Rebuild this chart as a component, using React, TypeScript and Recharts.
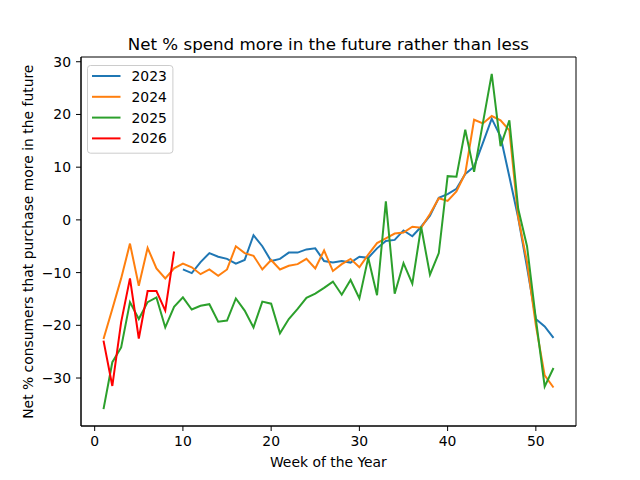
import { LineChart, Line, XAxis, YAxis, Legend, ReferenceArea } from "recharts"

const weeks = [
  1, 2, 3, 4, 5, 6, 7, 8, 9, 10, 11, 12, 13, 14, 15, 16, 17, 18, 19, 20, 21, 22, 23, 24, 25, 26,
  27, 28, 29, 30, 31, 32, 33, 34, 35, 36, 37, 38, 39, 40, 41, 42, 43, 44, 45, 46, 47, 48, 49, 50, 51, 52,
]

const net2023 = [
  null, null, null, null, null, null, null, null, null, -9.4, -10.1, -8.0, -6.3, -7.0, -7.4, -8.3, -7.6, -2.9,
  -5.0, -7.8, -7.4, -6.2, -6.2, -5.6, -5.4, -7.8, -8.1, -7.8, -8.1, -7.0, -7.2, -5.4, -4.0, -3.8, -2.0, -3.1,
  -1.3, 0.8, 4.2, 4.9, 5.9, 8.7, 10.1, 14.6, 19.2, 15.8, 8.2, 0.4, -9.0, -18.8, -20.2, -22.4,
]

const net2024 = [
  -22.6, -16.9, -11.1, -4.5, -12.5, -5.3, -9.2, -11.1, -9.2, -8.3, -9.0, -10.3, -9.4, -10.6, -9.4, -5.0, -6.3,
  -6.8, -9.4, -7.6, -9.4, -8.7, -8.4, -7.4, -9.2, -5.8, -9.7, -8.4, -7.4, -9.0, -6.6, -4.4, -3.5, -2.6, -2.4,
  -1.3, -1.5, 1.1, 4.1, 3.6, 5.4, 8.8, 19.0, 18.3, 19.7, 18.9, 17.0, 0.5, -8.0, -20.0, -29.5, -31.8,
]

const net2025 = [
  -35.9, -27.0, -24.2, -15.6, -18.8, -15.6, -14.7, -20.4, -16.5, -14.7, -17.0, -16.3, -16.0, -19.3, -19.1,
  -14.9, -17.2, -20.4, -15.5, -15.9, -21.5, -18.8, -16.9, -14.8, -14.0, -12.9, -11.7, -14.2, -11.4, -14.9,
  -7.2, -14.3, 3.5, -14.0, -8.2, -12.1, -1.3, -10.4, -6.3, 8.3, 8.2, 17.1, 9.1, 18.4, 27.7, 14.0, 18.9, 2.1,
  -5.0, -18.8, -31.6, -28.1,
]

const net2026 = [-22.9, -31.5, -19.4, -11.1, -22.5, -13.5, -13.5, -17.2, -6.0]

const xTicks = [0, 10, 20, 30, 40, 50]
const yTicks = [-30, -20, -10, 0, 10, 20, 30]
const xDomain = [-1.55, 54.55]
const yDomain = [-39.1, 30.9]

const series = [
  { key: "2023", values: net2023, color: "#1f77b4" },
  { key: "2024", values: net2024, color: "#ff7f0e" },
  { key: "2025", values: net2025, color: "#2ca02c" },
  { key: "2026", values: net2026, color: "#ff0000" },
]

const data = weeks.map((week, i) => {
  const row: Record<string, number | null> = { week }
  series.forEach((s) => {
    row[s.key] = s.values[i] ?? null
  })
  return row
})

const font = "'DejaVu Sans', sans-serif"
const tickStyle = { fill: "#000", fontSize: 13.9, fontFamily: font }
const fmt = (v: number) => (v < 0 ? `\u2212${-v}` : `${v}`)

function LegendBox(props: any) {
  const payload = props.payload || []
  return (
    <svg width={88} height={90} style={{ display: "block" }}>
      <rect x={0.5} y={0.5} width={85.4} height={87.7} rx={3} fill="#fff" fillOpacity={0.8} stroke="#cccccc" />
      {payload.map((p: any, i: number) => (
        <g key={p.value}>
          <line x1={5} x2={33.5} y1={11 + i * 20.8} y2={11 + i * 20.8} stroke={p.color} strokeWidth={2} />
          <text x={44.5} y={11 + i * 20.8 + 5} fontSize={13.9} fontFamily={font} fill="#000">
            {p.value}
          </text>
        </g>
      ))}
    </svg>
  )
}

export default function App() {
  return (
    <div style={{ position: "absolute", left: 0, top: 0, width: 640, height: 480, background: "#fff" }}>
      <LineChart width={640} height={480} data={data} margin={{ top: 57, right: 64, bottom: 24, left: 31 }}>
        <XAxis
          dataKey="week"
          type="number"
          domain={xDomain}
          ticks={xTicks}
          allowDataOverflow
          height={30}
          tick={tickStyle}
          tickSize={5}
          tickMargin={5}
          stroke="#000"
          tickFormatter={fmt}
        />
        <YAxis
          type="number"
          domain={yDomain}
          ticks={yTicks}
          allowDataOverflow
          width={50}
          tick={tickStyle}
          tickSize={5}
          tickMargin={5}
          stroke="#000"
          tickFormatter={fmt}
        />
        <ReferenceArea
          x1={xDomain[0]}
          x2={xDomain[1]}
          y1={yDomain[0]}
          y2={yDomain[1]}
          fill="none"
          fillOpacity={0}
          stroke="#000"
          strokeWidth={1}
          ifOverflow="visible"
        />
        {series.map((s) => (
          <Line
            key={s.key}
            dataKey={s.key}
            name={s.key}
            stroke={s.color}
            strokeWidth={2}
            dot={false}
            activeDot={false}
            isAnimationActive={false}
          />
        ))}
        <Legend
          layout="vertical"
          align="center"
          verticalAlign="middle"
          wrapperStyle={{ left: 87, top: 65, width: 88, height: 90 }}
          content={LegendBox}
        />
        <text x={328.4} y={49.5} textAnchor="middle" fontSize={16.7} fontFamily={font} fill="#000">
          Net % spend more in the future rather than less
        </text>
        <text x={328.4} y={467} textAnchor="middle" fontSize={13.9} fontFamily={font} fill="#000">
          Week of the Year
        </text>
        <text
          x={33}
          y={241.7}
          textAnchor="middle"
          fontSize={13.9}
          fontFamily={font}
          fill="#000"
          transform="rotate(-90, 33, 241.7)"
        >
          Net % consumers that purchase more in the future
        </text>
      </LineChart>
    </div>
  )
}
